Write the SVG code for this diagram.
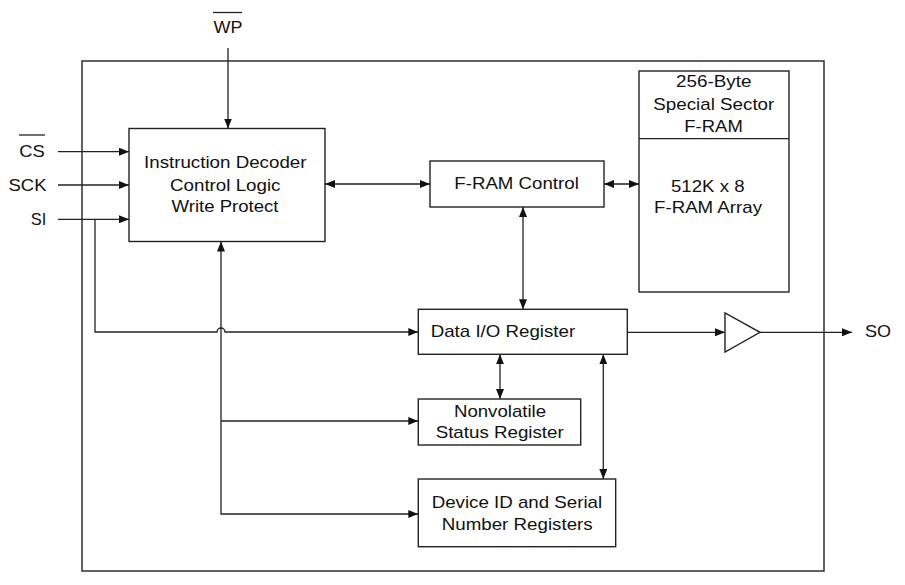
<svg xmlns="http://www.w3.org/2000/svg" width="905" height="585" viewBox="0 0 905 585">
<defs>
<marker id="ah" viewBox="0 0 10 8" refX="10" refY="4" markerWidth="10" markerHeight="8" markerUnits="userSpaceOnUse" orient="auto-start-reverse">
<path d="M0,0 L10,4 L0,8 z" fill="#111"/>
</marker>
<style>
.box{fill:#fff;stroke:#222;stroke-width:1.4}
.ln{fill:none;stroke:#222;stroke-width:1.3}
.t{font-family:"Liberation Sans",Arial,sans-serif;font-size:17px;fill:#111}
.a{marker-end:url(#ah)}
.b{marker-start:url(#ah);marker-end:url(#ah)}
</style>
</defs>
<rect width="905" height="585" fill="#fff"/>
<rect id="frame" class="box" x="82" y="61" width="742" height="510" fill="none"/>

<g id="pins">
<text class="t" x="213.5" y="33" textLength="29" lengthAdjust="spacingAndGlyphs">WP</text>
<line class="ln" x1="213" y1="12.5" x2="242" y2="12.5"/>
<text class="t" x="19.3" y="157" textLength="25.5" lengthAdjust="spacingAndGlyphs">CS</text>
<line class="ln" x1="19" y1="135" x2="45" y2="135"/>
<text class="t" x="8.5" y="191" textLength="38" lengthAdjust="spacingAndGlyphs">SCK</text>
<text class="t" x="30.7" y="225" textLength="15.5" lengthAdjust="spacingAndGlyphs">SI</text>
<text class="t" x="865" y="336.7" textLength="26" lengthAdjust="spacingAndGlyphs">SO</text>
</g>

<g id="decoder">
<rect class="box" x="129" y="128.5" width="196" height="113"/>
<text class="t" x="144" y="168" textLength="162.5" lengthAdjust="spacingAndGlyphs">Instruction Decoder</text>
<text class="t" x="170" y="190.5" textLength="110.5" lengthAdjust="spacingAndGlyphs">Control Logic</text>
<text class="t" x="171.5" y="212" textLength="107" lengthAdjust="spacingAndGlyphs">Write Protect</text>
</g>

<g id="framctrl">
<rect class="box" x="430" y="161" width="174" height="46"/>
<text class="t" x="454.3" y="189.3" textLength="124.5" lengthAdjust="spacingAndGlyphs">F-RAM Control</text>
</g>

<g id="array">
<rect class="box" x="639" y="71" width="150" height="221"/>
<line class="ln" x1="639" y1="138.7" x2="789" y2="138.7"/>
<text class="t" x="676" y="86.7" textLength="75.5" lengthAdjust="spacingAndGlyphs">256-Byte</text>
<text class="t" x="653.3" y="110" textLength="121" lengthAdjust="spacingAndGlyphs">Special Sector</text>
<text class="t" x="684.3" y="131.7" textLength="58.5" lengthAdjust="spacingAndGlyphs">F-RAM</text>
<text class="t" x="671" y="191.7" textLength="73.5" lengthAdjust="spacingAndGlyphs">512K x 8</text>
<text class="t" x="654" y="213.3" textLength="108" lengthAdjust="spacingAndGlyphs">F-RAM Array</text>
</g>

<g id="dataio">
<rect class="box" x="418.3" y="309.3" width="209" height="45"/>
<text class="t" x="430.7" y="336.7" textLength="144.5" lengthAdjust="spacingAndGlyphs">Data I/O Register</text>
</g>

<g id="status">
<rect class="box" x="418.3" y="399" width="162.4" height="46"/>
<text class="t" x="454" y="416.7" textLength="92" lengthAdjust="spacingAndGlyphs">Nonvolatile</text>
<text class="t" x="435.7" y="438.3" textLength="128" lengthAdjust="spacingAndGlyphs">Status Register</text>
</g>

<g id="devid">
<rect class="box" x="418.3" y="479" width="197.4" height="67.7"/>
<text class="t" x="431.7" y="508.3" textLength="170.5" lengthAdjust="spacingAndGlyphs">Device ID and Serial</text>
<text class="t" x="441.7" y="530" textLength="151" lengthAdjust="spacingAndGlyphs">Number Registers</text>
</g>

<g id="buffer">
<polygon class="box" points="725,313 725,352 760,332.3"/>
</g>

<g id="connectors">
<path class="ln a" d="M228,48 L228,128.5"/>
<path class="ln a" d="M58,151.7 L129,151.7"/>
<path class="ln a" d="M58,185 L129,185"/>
<path class="ln a" d="M58,219.3 L129,219.3"/>
<path class="ln a" d="M95,219.3 L95,332 L217,332 A4,4 0 0 1 225,332 L418.3,332"/>
<path class="ln b" d="M221,241.5 L221,514 L418.3,514"/>
<path class="ln a" d="M221,421 L418.3,421"/>
<path class="ln b" d="M325,184 L430,184"/>
<path class="ln b" d="M604,184 L639,184"/>
<path class="ln b" d="M523,207 L523,309.3"/>
<path class="ln b" d="M500,354.3 L500,399"/>
<path class="ln b" d="M603.3,354.3 L603.3,479"/>
<path class="ln a" d="M627.3,332.3 L725,332.3"/>
<path class="ln a" d="M760,332.3 L852,332.3"/>
</g>
</svg>
